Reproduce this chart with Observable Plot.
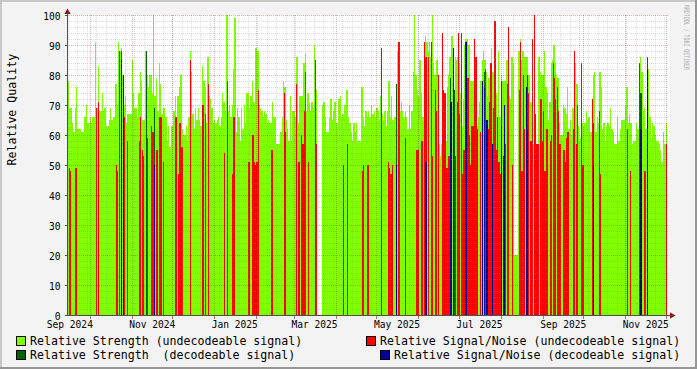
<!DOCTYPE html>
<html><head><meta charset="utf-8">
<script src="https://cdn.jsdelivr.net/npm/d3@7"></script>
<script src="https://cdn.jsdelivr.net/npm/@observablehq/plot@0.6"></script>
<style>
html,body{margin:0;padding:0;background:#f3f3f3}
#chart{position:relative;width:697px;height:369px;background:#f3f3f3;overflow:hidden;font-family:"DejaVu Sans Mono",monospace}
#chart svg.plot{position:absolute;left:0;top:0}
.lg{position:absolute;font-size:11.6px;line-height:14px;height:14px;white-space:pre;color:#000}
.bx{position:absolute;width:10px;height:10px;box-sizing:border-box;border:1px solid #000}
</style></head><body><div id="chart"></div>
<script>
// ---------------- data ----------------
const firstDay = "2024-09-14";   // one value per day from here
const strengthUndecodeable = [
74,78,69,69,64,61,69,76,62,62,
62,61,61,66,70,64,64,66,64,66,
66,91,69,83,68,68,74,68,69,63,
63,65,69,65,66,66,77,70,91,88,
89,80,70,73,64,67,67,67,85,74,
69,69,66,74,81,78,65,65,88,80,
76,80,80,74,100,73,79,68,84,77,
67,69,69,66,58,63,56,63,63,68,
73,64,73,76,80,62,60,60,63,58,
66,88,81,67,62,69,65,69,65,63,
83,78,76,64,86,73,72,69,64,65,
64,65,66,63,66,74,71,68,100,68,
70,66,70,82,99,61,69,66,58,69,
62,70,64,74,74,69,73,78,71,89,
89,88,70,69,68,66,68,67,64,65,
64,64,71,66,66,57,57,57,61,66,
78,76,65,62,58,73,58,68,68,66,
86,64,73,73,73,84,87,68,74,71,
68,71,69,90,75,null,null,null,null,70,
71,66,61,61,66,72,65,68,71,64,
64,72,73,66,67,70,70,75,66,64,
61,58,64,61,64,58,58,58,76,66,
63,68,66,68,66,70,67,68,66,69,
68,65,73,67,65,68,63,68,78,66,
73,65,66,66,88,63,68,71,68,66,
68,66,62,70,62,68,81,100,80,75,
73,85,74,66,72,93,91,88,91,86,
100,84,80,85,85,57,53,57,53,49,
58,76,80,86,93,93,75,86,85,86,
84,74,63,72,90,92,92,90,78,78,
78,66,86,63,66,71,78,85,88,85,
81,73,79,80,89,81,88,74,66,88,
66,80,78,78,78,85,85,73,72,86,
84,20,20,20,88,92,85,88,86,86,
86,80,80,71,73,57,61,57,57,86,
81,80,80,88,76,74,65,71,84,85,
90,84,80,79,64,60,60,70,69,67,
76,62,65,60,69,80,84,77,63,58,
59,64,63,64,68,65,66,61,61,80,
81,61,66,64,81,76,62,64,58,63,
64,63,69,62,61,57,57,66,58,62,
65,65,65,70,76,64,67,64,57,58,
58,64,62,57,86,81,68,69,62,81,
82,66,59,64,63,60,58,58,57,55,
51,61,57,64];

// Relative Signal/Noise (undecodeable): day index -> value
const snrUndecDays = [0,1,2,6,21,23,36,37,38,42,44,53,54,55,56,59,62,63,66,68,69,71,
80,82,83,84,85,91,100,102,104,116,118,122,123,134,137,138,139,140,141,
151,160,161,169,171,173,174,175,176,178,183,184,204,207,218,219,222,
232,237,238,239,240,245,250,258,259,262,264,265,267,269,270,272,273,274,277,278,279,280,281,282,287,288,289,290,291,292,293,296,
297,298,299,300,301,302,303,305,309,311,312,313,315,316,317,318,319,320,324,325,326,329,334,335,336,337,338,341,342,343,344,345,346,347,348,350,351,352,353,354,355,357,358,359,360,361,362,363,364,367,368,369,370,
374,375,376,377,380,381,388,393,394,414,416,423,427,443];
const snrUndecValues = [50,49,48,49,69,71,50,48,88,66,58,58,66,55,53,59,63,61,55,66,66,51,
66,47,64,56,56,85,70,67,77,54,78,47,66,51,60,51,50,51,75,
55,74,61,77,51,60,57,68,81,51,85,57,50,57,48,50,50,
89,51,49,47,50,91,59,55,55,58,91,86,86,91,53,75,68,80,94,75,74,49,49,53,53,71,94,67,94,47,55,79,
60,50,63,63,92,86,62,61,82,62,71,84,69,98,55,66,51,47,57,77,96,50,75,91,48,80,62,74,58,58,92,100,67,57,57,72,58,68,48,62,62,58,60,84,79,72,76,68,57,55,51,59,61,
62,88,57,70,84,50,72,68,47,62,48,84,48,57];

// Relative Strength (decodeable)
const strengthDecDays   = [40,58,64,243,283,285,286,308,321,340,389,424,429];
const strengthDecValues = [88,88,69,77,79,80,75,81,78,80,64,74,86];

// Relative Signal/Noise (decodeable)
const snrDecDays   = [40,41,64,243,265,283,284,285,294,295,307,308,310,314,321,322,323,339,340,389,424,429];
const snrDecValues = [85,80,50,50,51,71,71,89,91,91,78,76,65,57,63,53,70,76,62,50,62,82];

const yTicks = [0,10,20,30,40,50,60,70,80,90,100];
const monthLabels = ["Sep 2024","Nov 2024","Jan 2025","Mar 2025","May 2025","Jul 2025","Sep 2025","Nov 2025"];
const monthLabelStarts = ["2024-09-01","2024-11-01","2025-01-01","2025-03-01","2025-05-01","2025-07-01","2025-09-01","2025-11-01"];

// ---------------- layout ----------------
const C_GREEN = "#7fff00", C_RED = "#ff0000", C_DKGREEN = "#006400", C_BLUE = "#000099";
const parse = d3.utcParse("%Y-%m-%d");
const day0 = parse(firstDay);
const pxPerDay = 1.352, refDate = Date.UTC(2024, 9, 1), refPx = 89.6, msDay = 864e5;
const xL = 67, xR = 669;
const px2date = p => new Date(refDate + (p - refPx) / pxPerDay * msDay);
const t0 = px2date(xL), t1 = px2date(xR);

const dayRow = (d, v) => ({x1: d3.utcDay.offset(day0, d), x2: d3.utcDay.offset(day0, d + 1),
                           xm: new Date(+d3.utcDay.offset(day0, d) + msDay / 2), v});
const green = strengthUndecodeable.map((v, i) => dayRow(i, v)).filter(r => r.v != null);
const red = snrUndecDays.map((d, i) => dayRow(d, snrUndecValues[i]));
const dkgreen = strengthDecDays.map((d, i) => dayRow(d, strengthDecValues[i]));
const blue = snrDecDays.map((d, i) => dayRow(d, snrDecValues[i]));

const monthStarts = d3.utcMonth.range(d3.utcMonth.ceil(t0), t1);
const weekStarts = d3.utcSunday.range(d3.utcSunday.ceil(t0), t1);
const minorY = d3.range(2, 100, 2).filter(v => v % 10 !== 0);
const majorY = yTicks.filter(v => v > 0);
const labels = monthLabels.map((t, i) => ({t, x: d3.utcDay.offset(parse(monthLabelStarts[i]), 15)}));
const AX = "#505050", ARROW = "#7f1f1f";
const spike = (data, color) => Plot.ruleX(data, {x: "xm", y1: 0, y2: "v", stroke: color, strokeWidth: 1.2, shapeRendering: "crispEdges"});

const chart = Plot.plot({
  width: 697, height: 335,
  marginLeft: xL, marginRight: 697 - xR, marginTop: 15, marginBottom: 20,
  x: {type: "utc", domain: [t0, t1], axis: null},
  y: {domain: [0, 100], axis: null},
  style: {background: "transparent", fontFamily: "DejaVu Sans Mono, monospace", fontSize: "9.6px", overflow: "visible"},
  marks: [
    Plot.frame({fill: "#ffffff", stroke: "none"}),
    Plot.rectY(green, {x1: "x1", x2: "x2", y: "v", fill: C_GREEN, shapeRendering: "crispEdges"}),
    spike(red, C_RED),
    spike(dkgreen, C_DKGREEN),
    spike(blue, C_BLUE),
    // grid
    Plot.ruleY(minorY, {stroke: "#8c8c8c", strokeOpacity: 0.3, strokeDasharray: "1,1", shapeRendering: "crispEdges"}),
    Plot.ruleX(weekStarts, {stroke: "#8c8c8c", strokeOpacity: 0.3, strokeDasharray: "1,1", shapeRendering: "crispEdges"}),
    Plot.ruleY(majorY, {stroke: "#821e1e", strokeOpacity: 0.3, strokeDasharray: "1,1", shapeRendering: "crispEdges"}),
    Plot.ruleX(monthStarts, {stroke: "#821e1e", strokeOpacity: 0.3, strokeDasharray: "1,1", shapeRendering: "crispEdges"}),
    // ticks
    Plot.link(yTicks, {x1: t0, x2: px2date(xL - 3), y1: d => d, y2: d => d, stroke: AX, shapeRendering: "crispEdges"}),
    Plot.link(monthStarts, {x1: d => d, x2: d => d, y1: 0, y2: -1, stroke: ARROW, strokeOpacity: 0.6, shapeRendering: "crispEdges"}),
    // axes
    Plot.ruleY([0], {x1: t0, x2: px2date(xR + 2), stroke: AX, shapeRendering: "crispEdges"}),
    Plot.ruleX([t0], {y1: 0, y2: 101, stroke: AX, shapeRendering: "crispEdges"}),
    Plot.dot([0], {x: px2date(xR + 2.3), y: 0, symbol: "triangle", r: 2.4, rotate: 90, fill: ARROW, stroke: "none"}),
    Plot.dot([0], {x: t0, y: 101.1, symbol: "triangle", r: 2.4, fill: ARROW, stroke: "none"}),
    // labels
    Plot.text(yTicks, {frameAnchor: "left", y: d => d, text: d => String(d), textAnchor: "end", dx: -7, dy: 1, fontSize: 9.6, fill: "#000"}),
    Plot.text(labels, {x: "x", frameAnchor: "bottom", text: "t", dy: 12, fontSize: 9.6, fill: "#000"}),
    Plot.text(["Relative Quality"], {frameAnchor: "left", rotate: -90, dx: -55, fontSize: 11.6, fill: "#000"})
  ]
});
chart.classList.add("plot");
const root = document.getElementById("chart");
root.appendChild(chart);

// legend (below the plot)
const legend = [
  {c: C_GREEN, bx: 16, by: 336, tx: 30, ty: 334, t: "Relative Strength (undecodeable signal)"},
  {c: C_RED, bx: 366, by: 336, tx: 380, ty: 334, t: "Relative Signal/Noise (undecodeable signal)"},
  {c: C_DKGREEN, bx: 16, by: 350, tx: 30, ty: 348, t: "Relative Strength  (decodeable signal)"},
  {c: C_BLUE, bx: 380, by: 350, tx: 394, ty: 348, t: "Relative Signal/Noise (decodeable signal)"}
];
for (const l of legend) {
  const b = document.createElement("div");
  b.className = "bx"; b.style.left = l.bx + "px"; b.style.top = l.by + "px"; b.style.background = l.c;
  root.appendChild(b);
  const t = document.createElement("div");
  t.className = "lg"; t.style.left = l.tx + "px"; t.style.top = l.ty + "px"; t.textContent = l.t;
  root.appendChild(t);
}
// watermark and 3D frame edges
const ns = "http://www.w3.org/2000/svg";
const wm = document.createElementNS(ns, "svg");
wm.setAttribute("width", 697); wm.setAttribute("height", 369);
wm.style.position = "absolute"; wm.style.left = "0"; wm.style.top = "0"; wm.style.pointerEvents = "none";
const wt = document.createElementNS(ns, "text");
wt.setAttribute("transform", "translate(684,5) rotate(90)");
wt.setAttribute("font-family", "DejaVu Sans Mono, monospace");
wt.setAttribute("font-size", "7.5");
wt.setAttribute("fill", "#b0b0b0");
wt.setAttribute("textLength", "65");
wt.setAttribute("lengthAdjust", "spacingAndGlyphs");
wt.textContent = "RRDTOOL / TOBI OETIKER";
wm.appendChild(wt);
const edges = [[0,0,697,2,"#c8c8c8"],[0,0,2,369,"#c8c8c8"],[0,367,697,2,"#969696"],[695,0,2,369,"#969696"]];
for (const [x,y,w,h,c] of edges) {
  const r = document.createElementNS(ns, "rect");
  r.setAttribute("x", x); r.setAttribute("y", y); r.setAttribute("width", w); r.setAttribute("height", h); r.setAttribute("fill", c);
  wm.appendChild(r);
}
root.appendChild(wm);
</script></body></html>
